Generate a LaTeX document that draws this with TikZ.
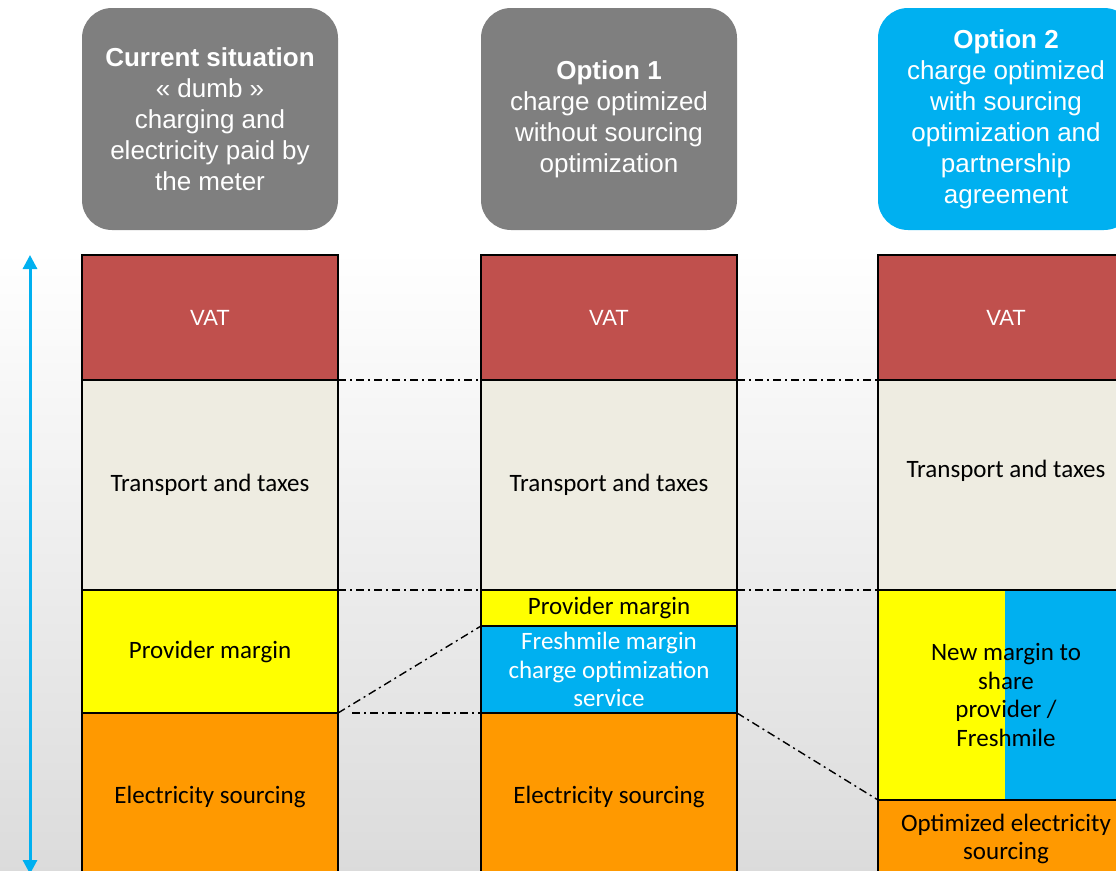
\documentclass[tikz,border=0pt]{standalone}
\usepackage{fontspec}
\setmainfont{Carlito}
\newfontfamily\headfont{Liberation Sans}
\usetikzlibrary{arrows.meta}
\definecolor{vatred}{HTML}{C0504D}
\definecolor{transpgrey}{HTML}{EEECE1}
\definecolor{provyellow}{HTML}{FFFF00}
\definecolor{freshblue}{HTML}{00B0F0}
\definecolor{sourceorange}{HTML}{FF9900}
\definecolor{headgrey}{HTML}{7F7F7F}

\begin{document}
\begin{tikzpicture}[x=1pt,y=-1pt,
	head/.style={rounded corners=30pt,fill=headgrey,text=white,minimum width=256pt,
		minimum height=222pt,anchor=north west,align=center,outer sep=0pt,
		font=\headfont\fontsize{26}{31}\selectfont},
	layer/.style={draw=black,line width=1.5pt,minimum width=256pt,anchor=north west,
		align=center,inner sep=0pt,outer sep=0pt,font=\fontsize{25}{28.5}\selectfont},
	vat/.style={layer,fill=vatred,text=white,minimum height=125pt,
		font=\headfont\fontsize{22}{26}\selectfont},
	level/.style={black,line width=1.4pt,dash pattern=on 8pt off 4pt on 2pt off 4pt}]
	\useasboundingbox (0,0) rectangle (1116,870);
	% background
	\shade[top color=white,middle color=black!2,bottom color=black!14] (0,250) rectangle (1116,870);

	% headers
	\node[head] (head1) at (82,8) {\textbf{Current situation}\\« dumb »\\charging and\\electricity paid by\\the meter};
	\node[head] (head2) at (481,8) {\textbf{Option 1}\\charge optimized\\without sourcing\\optimization};
	\node[head,fill=freshblue] (head3) at (878,8) {\textbf{Option 2}\\charge optimized\\with sourcing\\optimization and\\partnership\\agreement};

	% current situation
	\node[vat] (vat1) at (82,255) {VAT};
	\node[layer,fill=transpgrey,minimum height=210pt] (transp1) at (vat1.south west) {Transport and taxes};
	\node[layer,fill=provyellow,minimum height=123pt] (prov1) at (transp1.south west) {Provider margin};
	\node[layer,fill=sourceorange,minimum height=167pt] (source1) at (prov1.south west) {Electricity sourcing};

	% option 1
	\node[vat] (vat2) at (481,255) {VAT};
	\node[layer,fill=transpgrey,minimum height=210pt] (transp2) at (vat2.south west) {Transport and taxes};
	\node[layer,fill=provyellow,minimum height=36pt] (prov2) at (transp2.south west) {Provider margin};
	\node[layer,fill=freshblue,text=white,minimum height=87pt] (fresh2) at (prov2.south west) {Freshmile margin\\charge optimization\\service};
	\node[layer,fill=sourceorange,minimum height=167pt] (source2) at (fresh2.south west) {Electricity sourcing};

	% option 2
	\node[vat] (vat3) at (878,255) {VAT};
	\node[layer,fill=transpgrey,minimum height=210pt] (transp3) at (vat3.south west) {};
	\node[font=\fontsize{25}{28.5}\selectfont] (transp3text) at ([yshift=14pt]transp3.center) {Transport and taxes};
	\node[layer,fill=freshblue,minimum height=210pt,
		path picture={\fill[provyellow] (path picture bounding box.south west) rectangle ([xshift=127pt]path picture bounding box.north west);}]
		(share3) at (transp3.south west) {New margin to\\share\\provider /\\Freshmile};
	\node[layer,fill=sourceorange,minimum height=78pt] (source3) at (share3.south west) {Optimized electricity\\sourcing};

	% price axis
	\coordinate (axistop) at (30,255);
	\coordinate (axisbot) at (30,874);
	\draw[freshblue,line width=3pt,{Triangle[width=14pt,length=14pt]}-{Triangle[width=14pt,length=14pt]}] (axistop) -- (axisbot);

	% levels
	\draw[level] (vat1.south east) -- (vat2.south west);
	\draw[level] (vat2.south east) -- (vat3.south west);
	\draw[level] (transp1.south east) -- (transp2.south west);
	\draw[level] (transp2.south east) -- (transp3.south west);
	\draw[level,shorten <=14pt] (prov1.south east) -- (fresh2.south west);
	\draw[level] (prov1.south east) -- (fresh2.north west);
	\draw[level] (fresh2.south east) -- (share3.south west);
\end{tikzpicture}
\end{document}
